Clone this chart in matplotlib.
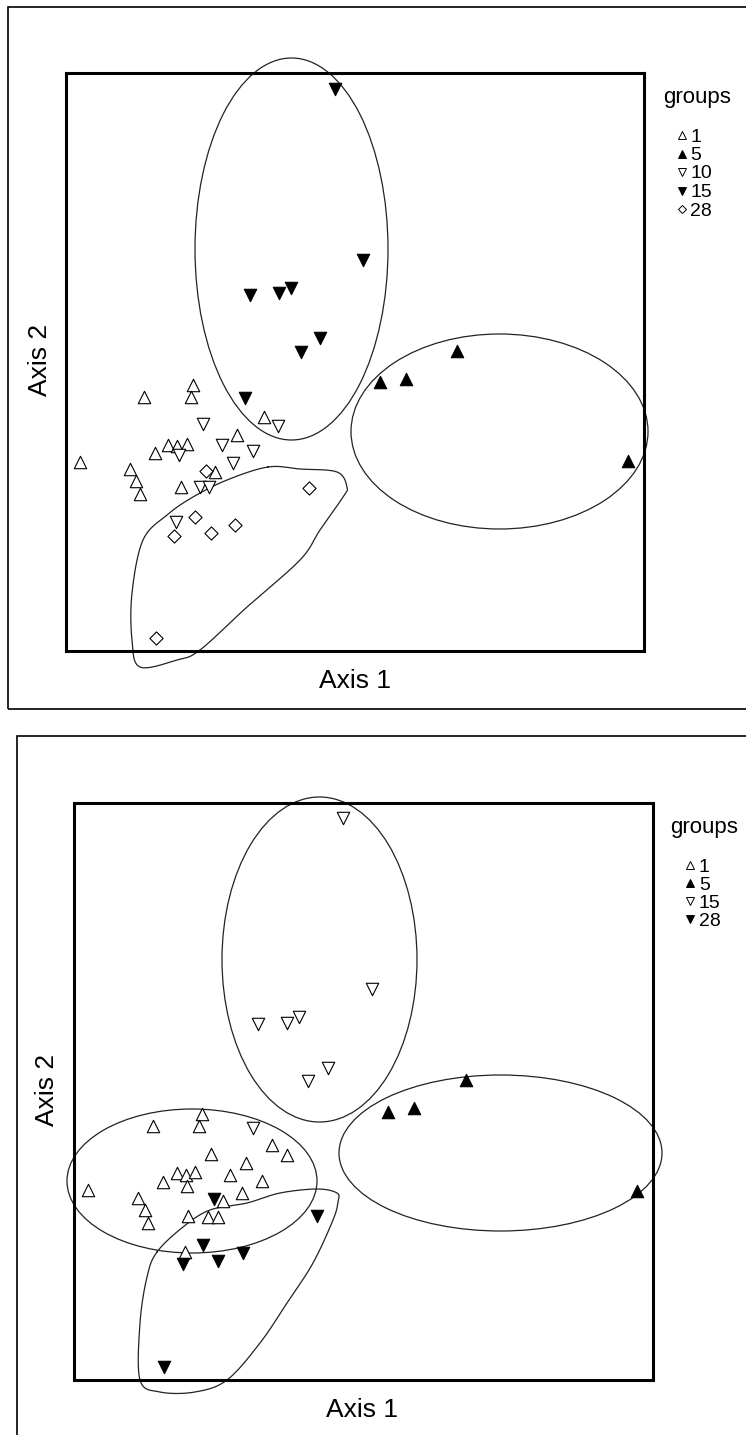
import numpy as np
import matplotlib.pyplot as plt
from matplotlib.patches import Ellipse, Rectangle
from matplotlib.lines import Line2D

plt.rcParams['font.family'] = ['Liberation Sans', 'DejaVu Sans']

# ---- top panel: ordination scores per group ----
top_g1_x = [14, 78, 127, 125, 89, 102, 111, 121, 171, 64, 70, 74, 115, 149, 198]
top_g1_y = [189, 254, 266, 254, 198, 206, 205, 207, 216, 182, 170, 157, 164, 179, 234]
top_g5_x = [314, 340, 391, 562]
top_g5_y = [269, 272, 300, 190]
top_g10_x = [137, 156, 187, 167, 134, 143, 113, 212, 110]
top_g10_y = [227, 206, 200, 188, 164, 164, 196, 225, 129]
top_g15_x = [269, 297, 184, 213, 225, 254, 235, 179]
top_g15_y = [562, 391, 356, 358, 363, 313, 299, 253]
top_g28_x = [140, 243, 129, 169, 108, 145, 90]
top_g28_y = [180, 163, 134, 126, 115, 118, 13]

# group outlines (center x, center y, width, height)
top_ell_15 = (225.5, 402, 193, 382)
top_ell_5 = (433.5, 219.5, 297, 195)
top_blob_x = [202, 234, 271, 281, 277, 254, 234, 181, 134, 111, 74, 66, 66, 77, 101, 127, 161]
top_blob_y = [184, 182, 179, 164, 154, 121, 91, 44, 1, -9, -16, 11, 58, 111, 136, 154, 171]

# ---- bottom panel ----
bot_g1_x = [14, 79, 128, 125, 137, 89, 103, 112, 121, 113, 156, 172, 168, 188, 198, 213,
            64, 71, 74, 114, 149, 134, 144, 111]
bot_g1_y = [190, 254, 266, 254, 226, 198, 207, 205, 208, 194, 205, 217, 187, 199, 235, 225,
            182, 170, 157, 164, 179, 163, 163, 128]
bot_g5_x = [314, 340, 392, 563]
bot_g5_y = [268, 272, 300, 189]
bot_g15_x = [269, 298, 184, 213, 225, 254, 234, 179]
bot_g15_y = [562, 391, 356, 357, 363, 312, 299, 252]
bot_g28_x = [140, 243, 129, 169, 109, 144, 90]
bot_g28_y = [181, 164, 135, 127, 116, 119, 13]

bot_ell_15 = (245.5, 420.5, 195, 325)
bot_ell_5 = (426.5, 227, 323, 156)
bot_ell_1 = (118, 199, 250, 144)
bot_blob_x = [83, 109, 136, 173, 206, 243, 263, 264, 259, 239, 213, 186, 153, 121, 86, 66, 66, 73]
bot_blob_y = [128, 153, 170, 177, 187, 191, 187, 178, 160, 117, 77, 37, 0, -12, -12, 0, 57, 103]

W, H = 746, 1435


def closed_curve(xs, ys, n=24):
    # smooth closed Catmull-Rom curve through the outline points
    pts = np.column_stack([xs, ys]).astype(float)
    N = len(pts)
    t = np.linspace(0, 1, n, endpoint=False)[:, None]
    segs = []
    for i in range(N):
        p0, p1, p2, p3 = pts[i - 1], pts[i], pts[(i + 1) % N], pts[(i + 2) % N]
        segs.append(0.5 * (2 * p1 + (-p0 + p2) * t + (2 * p0 - 5 * p1 + 4 * p2 - p3) * t ** 2
                           + (-p0 + 3 * p1 - 3 * p2 + p3) * t ** 3))
    segs.append(segs[0][:1])
    c = np.vstack(segs)
    return c[:, 0], c[:, 1]


def px_axes(fig, left, top, right, bottom):
    return fig.add_axes([left / W, 1 - bottom / H, (right - left) / W, (bottom - top) / H])


styles = {
    '1': dict(marker='^', facecolors='white', edgecolors='black'),
    '5': dict(marker='^', facecolors='black', edgecolors='black'),
    '10': dict(marker='v', facecolors='white', edgecolors='black'),
    '15': dict(marker='v', facecolors='black', edgecolors='black'),
    '28': dict(marker='D', facecolors='white', edgecolors='black'),
}


def draw_panel(ax, groups, ellipses, blob, xmax, ymax):
    for name, xs, ys, st in groups:
        s = 45 if st['marker'] == 'D' else 80
        ax.scatter(xs, ys, s=s, linewidths=0.8, marker=st['marker'],
                   facecolors=st['facecolors'], edgecolors=st['edgecolors'],
                   zorder=3, clip_on=False)
    for cx, cy, w, h in ellipses:
        ax.add_patch(Ellipse((cx, cy), w, h, fill=False, lw=0.9, ec='#222222', clip_on=False))
    bx, by = closed_curve(*blob)
    ax.plot(bx, by, color='#222222', lw=0.9, clip_on=False)
    ax.set_xlim(0, xmax)
    ax.set_ylim(0, ymax)
    ax.set_xticks([])
    ax.set_yticks([])
    for sp in ax.spines.values():
        sp.set_linewidth(2.2)


def draw_legend(fig, groups, title_x, title_y, mark_x, text_x, first_y, step):
    fig.text(title_x / W, 1 - title_y / H, 'groups', fontsize=16, ha='left', va='center')
    for i, (name, xs, ys, st) in enumerate(groups):
        yy = first_y + i * step
        mk = st['marker']
        fig.add_artist(Line2D([mark_x / W], [1 - yy / H], ls='none', marker=mk,
                              markersize=6 if mk != 'D' else 4.5,
                              markerfacecolor=st['facecolors'], markeredgecolor='black',
                              markeredgewidth=0.7, transform=fig.transFigure))
        fig.text(text_x / W, 1 - yy / H, name, fontsize=14, ha='left', va='center_baseline')


fig = plt.figure(figsize=(W / 100, H / 100), dpi=100)

# outer frames
fig.add_artist(Rectangle((8 / W, 1 - 709 / H), 760 / W, 702 / H, fill=False,
                         lw=1.2, ec='black', transform=fig.transFigure))
fig.add_artist(Rectangle((17 / W, 1 - 1460 / H), 760 / W, 724 / H, fill=False,
                         lw=1.2, ec='black', transform=fig.transFigure))

top_groups = [('1', top_g1_x, top_g1_y, styles['1']),
              ('5', top_g5_x, top_g5_y, styles['5']),
              ('10', top_g10_x, top_g10_y, styles['10']),
              ('15', top_g15_x, top_g15_y, styles['15']),
              ('28', top_g28_x, top_g28_y, styles['28'])]
ax1 = px_axes(fig, 66, 73, 644, 651)
draw_panel(ax1, top_groups, [top_ell_15, top_ell_5], (top_blob_x, top_blob_y), 578, 578)
draw_legend(fig, top_groups, 663, 98, 682, 690, 135, 18.5)

bot_groups = [('1', bot_g1_x, bot_g1_y, styles['1']),
              ('5', bot_g5_x, bot_g5_y, styles['5']),
              ('15', bot_g15_x, bot_g15_y, styles['10']),
              ('28', bot_g28_x, bot_g28_y, styles['15'])]
ax2 = px_axes(fig, 74, 803, 653, 1380)
draw_panel(ax2, bot_groups, [bot_ell_15, bot_ell_5, bot_ell_1], (bot_blob_x, bot_blob_y), 579, 577)
draw_legend(fig, bot_groups, 670, 828, 690, 699, 865, 18)

fig.text(355 / W, 1 - 681 / H, 'Axis 1', fontsize=19, ha='center', va='center')
fig.text(40 / W, 1 - 360 / H, 'Axis 2', fontsize=19, ha='center', va='center', rotation=90)
fig.text(362 / W, 1 - 1410 / H, 'Axis 1', fontsize=19, ha='center', va='center')
fig.text(47 / W, 1 - 1090 / H, 'Axis 2', fontsize=19, ha='center', va='center', rotation=90)

fig.savefig('out.png', dpi=100)
